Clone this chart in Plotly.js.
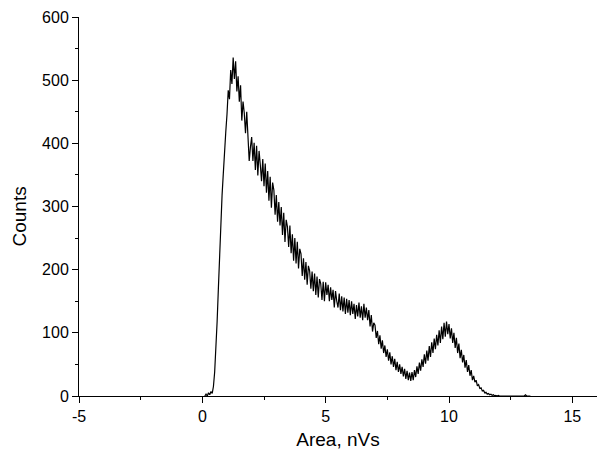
<!DOCTYPE html>
<html>
<head>
<meta charset="utf-8">
<script src="https://cdn.plot.ly/plotly-3.0.1.min.js"></script>
<style>html,body{margin:0;padding:0;background:#fff;}#chart{width:597px;height:460px;}</style>
</head>
<body>
<div id="chart"></div>
<script>
// Histogram bins: first bin centre and bin width (nVs)
const binStart = 0.1;
const binWidth = 0.05;

// Counts per bin
const counts = [
  // 0.10 - 0.45
  0, 3, 0, 5, 2, 7, 4, 15,
  // 0.50 - 0.95
  38, 72, 118, 170, 226, 268, 318, 352, 398, 418,
  // 1.00 - 1.45
  446, 484, 470, 516, 494, 536, 502, 530, 482, 506,
  // 1.50 - 1.95
  466, 492, 436, 466, 448, 416, 450, 402, 372, 394,
  // 2.00 - 2.45
  410, 372, 401, 358, 396, 349, 388, 366, 340, 375,
  // 2.50 - 2.95
  332, 368, 322, 356, 309, 347, 298, 338, 326, 287,
  // 3.00 - 3.45
  318, 276, 307, 270, 299, 255, 290, 244, 279, 268,
  // 3.50 - 3.95
  236, 270, 226, 256, 214, 250, 210, 244, 202, 233,
  // 4.00 - 4.45
  225, 190, 218, 184, 212, 176, 206, 198, 170, 197,
  // 4.50 - 4.95
  166, 194, 160, 189, 156, 185, 178, 152, 181, 150,
  // 5.00 - 5.45
  180, 160, 176, 150, 172, 152, 168, 140, 166, 150,
  // 5.50 - 5.95
  140, 162, 136, 158, 134, 156, 130, 154, 132, 152,
  // 6.00 - 6.45
  128, 150, 130, 146, 122, 144, 126, 148, 124, 142,
  // 6.50 - 6.95
  120, 146, 124, 140, 120, 136, 110, 128, 102, 116,
  // 7.00 - 7.45
  112, 92, 103, 82, 96, 75, 88, 68, 80, 62,
  // 7.50 - 7.95
  74, 56, 69, 50, 63, 46, 59, 41, 54, 38,
  // 8.00 - 8.45
  50, 35, 46, 31, 43, 27, 40, 25, 37, 24,
  // 8.50 - 8.95
  38, 25, 41, 30, 47, 35, 53, 40, 58, 46,
  // 9.00 - 9.45
  66, 51, 72, 56, 79, 62, 85, 68, 91, 74,
  // 9.50 - 9.95
  97, 80, 104, 84, 110, 90, 116, 94, 118, 98,
  // 10.00 - 10.45
  114, 91, 107, 84, 100, 76, 92, 68, 83, 60,
  // 10.50 - 10.95
  73, 53, 65, 45, 57, 38, 49, 32, 41, 25,
  // 11.00 - 11.45
  32, 22, 25, 16, 18, 12, 13, 8, 9, 5,
  // 11.50 - 11.95
  6, 3, 4, 2, 3, 1, 2, 0, 1, 0,
  // 12.00 - 12.45
  1, 0, 0, 1, 0, 0, 0, 1, 0, 0,
  // 12.50 - 12.95
  0, 0, 0, 0, 0, 0, 0, 0, 0, 0,
  // 13.00 - 13.30
  0, 0, 2, 0, 0, 0, 0
];

const xTickVals = [-5, 0, 5, 10, 15];
const xTickText = ['-5', '0', '5', '10', '15'];
const yTickVals = [0, 100, 200, 300, 400, 500, 600];
const yTickText = ['0', '100', '200', '300', '400', '500', '600'];

const xTitle = 'Area, nVs';
const yTitle = 'Counts';

const font = 'Arial, "Liberation Sans", sans-serif';

const trace = {
  type: 'scatter',
  mode: 'lines',
  x0: binStart,
  dx: binWidth,
  y: counts,
  line: {color: '#000000', width: 1.2},
  hoverinfo: 'skip'
};

const axisCommon = {
  showgrid: false,
  zeroline: false,
  showline: true,
  linecolor: '#000000',
  linewidth: 1,
  ticks: 'outside',
  ticklen: 6,
  tickwidth: 1,
  tickcolor: '#000000',
  tickmode: 'array',
  tickfont: {family: font, size: 16, color: '#000000'},
  mirror: false
};

const layout = {
  width: 597,
  height: 460,
  margin: {l: 79, r: 0, t: 17, b: 64},
  paper_bgcolor: '#ffffff',
  plot_bgcolor: '#ffffff',
  showlegend: false,
  xaxis: Object.assign({}, axisCommon, {
    range: [-5, 16],
    tickvals: xTickVals,
    ticktext: xTickText,
    minor: {tickmode: 'linear', tick0: 0, dtick: 2.5, ticks: 'outside', ticklen: 3, tickcolor: '#000000', showgrid: false},
    title: {text: xTitle, font: {family: font, size: 19, color: '#000000'}, standoff: 8}
  }),
  yaxis: Object.assign({}, axisCommon, {
    range: [0, 600],
    tickvals: yTickVals,
    ticktext: yTickText,
    minor: {tickmode: 'linear', tick0: 0, dtick: 50, ticks: 'outside', ticklen: 3, tickcolor: '#000000', showgrid: false}
  }),
  annotations: [{
    text: yTitle,
    xref: 'paper', yref: 'paper',
    x: 0, y: 0.5,
    xshift: -60, yshift: -10,
    xanchor: 'center', yanchor: 'middle',
    textangle: -90,
    showarrow: false,
    font: {family: font, size: 19, color: '#000000'}
  }]
};

Plotly.newPlot('chart', [trace], layout, {staticPlot: true, displayModeBar: false});
</script>
</body>
</html>
